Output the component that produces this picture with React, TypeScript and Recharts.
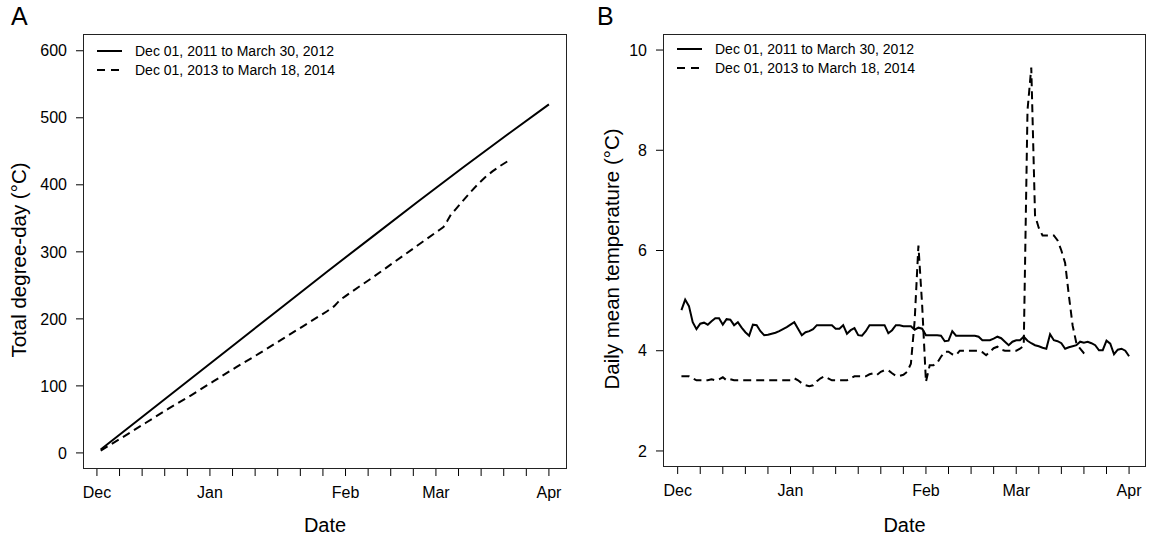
import React from "react";
import { LineChart, Line, XAxis, YAxis } from "recharts";

// x values are days since Dec 1 (0 = Dec 1)
const weekTicks = [0, 6, 12, 18, 24, 30, 36, 42, 48, 54, 60, 66, 72, 78, 84, 90, 96, 102, 108, 114, 120];
const monthTicks = [0, 30, 66, 90, 120];
const monthLabels = ["Dec", "Jan", "Feb", "Mar", "Apr"];

const seriesNames = ["Dec 01, 2011 to March 30, 2012", "Dec 01, 2013 to March 18, 2014"];

// Panel A: total degree-days
const degreeTicks = [0, 100, 200, 300, 400, 500, 600];
const solidDaysA = [1, 13, 25, 37, 49, 61, 73, 85, 97, 109, 120];
const solidCumA = [5, 58, 111, 164, 217, 270, 322, 374, 425, 475, 520];
const dashedDaysA = [1, 7, 13, 19, 25, 31, 37, 43, 49, 55, 61, 63, 64, 65, 66, 67, 73, 79, 85, 91, 92, 93, 94, 95, 97, 99, 101, 103, 105, 107, 109];
const dashedCumA = [3.5, 24, 45, 66, 86, 107, 128, 148, 169, 190, 211, 219, 225, 230, 234, 238, 261, 285, 309, 333, 337, 346, 356, 362, 375, 388, 400, 411, 420, 428, 435];

// Panel B: daily mean temperature, first value = day 1
const tempTicks = [2, 4, 6, 8, 10];
const solidDailyB = [
  4.81, 5.02, 4.89, 4.57, 4.43, 4.54, 4.56, 4.52, 4.59, 4.65,
  4.65, 4.52, 4.63, 4.62, 4.51, 4.57, 4.46, 4.37, 4.3, 4.52,
  4.51, 4.39, 4.31, 4.32, 4.34, 4.36, 4.39, 4.43, 4.47, 4.52,
  4.57, 4.44, 4.31, 4.37, 4.39, 4.43, 4.51, 4.51, 4.51, 4.51,
  4.51, 4.44, 4.44, 4.51, 4.34, 4.41, 4.45, 4.31, 4.3, 4.39,
  4.51, 4.51, 4.51, 4.51, 4.51, 4.35, 4.41, 4.51, 4.51, 4.49,
  4.49, 4.49, 4.42, 4.46, 4.44, 4.31, 4.31, 4.31, 4.31, 4.3,
  4.19, 4.2, 4.39, 4.3, 4.3, 4.3, 4.3, 4.3, 4.3, 4.28,
  4.21, 4.21, 4.21, 4.24, 4.28, 4.25, 4.18, 4.11, 4.18, 4.21,
  4.21, 4.28, 4.2, 4.15, 4.11, 4.09, 4.06, 4.04, 4.33, 4.21,
  4.19, 4.15, 4.04, 4.07, 4.09, 4.11, 4.18, 4.16, 4.18, 4.15,
  4.11, 4.01, 4.01, 4.2, 4.14, 3.93, 4.02, 4.04, 4.0, 3.89,
];
const dashedDailyB = [
  3.49, 3.49, 3.49, 3.45, 3.41, 3.41, 3.41, 3.41, 3.43, 3.41,
  3.43, 3.47, 3.41, 3.43, 3.41, 3.41, 3.41, 3.41, 3.41, 3.41,
  3.41, 3.41, 3.41, 3.41, 3.41, 3.41, 3.41, 3.41, 3.41, 3.41,
  3.45, 3.41, 3.35, 3.31, 3.29, 3.31, 3.39, 3.45, 3.49, 3.45,
  3.41, 3.41, 3.41, 3.41, 3.41, 3.45, 3.49, 3.49, 3.49, 3.49,
  3.53, 3.55, 3.52, 3.58, 3.61, 3.61, 3.55, 3.5, 3.5, 3.52,
  3.58, 3.74, 4.6, 6.1, 4.9, 3.38, 3.71, 3.71, 3.76, 3.88,
  3.98, 3.98, 3.93, 3.91, 4.0, 4.0, 4.0, 4.0, 4.0, 4.0,
  3.97, 3.91, 3.98, 4.05, 4.08, 4.02, 4.0, 4.0, 4.0, 4.0,
  4.04, 4.1, 8.8, 9.65, 6.7, 6.45, 6.3, 6.3, 6.3, 6.3,
  6.2, 6.0, 5.75, 5.1, 4.5, 4.15, 4.04, 3.95, 3.89,
];

const FONT = "'Liberation Sans', Arial, Helvetica, sans-serif";
const DASH = "8 5";

const toPoints = (days: number[], vals: number[]) => days.map((d, i) => ({ day: d, v: vals[i] }));
const dailyPoints = (vals: number[]) => vals.map((v, i) => ({ day: i + 1, v }));

const monthFormatter = (d: number) => {
  const i = monthTicks.indexOf(d);
  return i >= 0 ? monthLabels[i] : "";
};

type PanelProps = {
  left: number;
  width: number;
  plot: { x: number; y: number; w: number; h: number };
  xDomain: [number, number];
  yDomain: [number, number];
  yTicks: number[];
  solid: { day: number; v: number }[];
  dashed: { day: number; v: number }[];
  letter: string;
  letterX: number;
  yTitle: string;
  titleX: number;
  legendY: number;
};

function Panel(p: PanelProps) {
  const { plot } = p;
  const tickStyle = { fill: "#000", fontSize: 16, fontFamily: FONT };
  return (
    <>
      <div style={{ position: "absolute", left: p.left, top: 0 }}>
        <LineChart
          width={p.width}
          height={542}
          margin={{
            top: plot.y,
            left: plot.x - p.left - 60,
            right: p.left + p.width - (plot.x + plot.w),
            bottom: 542 - (plot.y + plot.h) - 40,
          }}
        >
          <XAxis
            dataKey="day"
            type="number"
            domain={p.xDomain}
            allowDataOverflow
            ticks={weekTicks}
            interval={0}
            tickFormatter={monthFormatter}
            axisLine={false}
            tickLine={{ stroke: "#000" }}
            tickSize={7}
            tickMargin={11}
            height={40}
            tick={tickStyle}
          />
          <YAxis
            type="number"
            domain={p.yDomain}
            allowDataOverflow
            ticks={p.yTicks}
            interval={0}
            axisLine={false}
            tickLine={{ stroke: "#000" }}
            tickSize={7}
            tickMargin={9}
            width={60}
            tick={tickStyle}
          />
          <Line data={p.solid} dataKey="v" stroke="#000" strokeWidth={2} dot={false} type="linear" isAnimationActive={false} />
          <Line data={p.dashed} dataKey="v" stroke="#000" strokeWidth={2} strokeDasharray={DASH} dot={false} type="linear" isAnimationActive={false} />
        </LineChart>
      </div>
      {/* plot frame */}
      <div
        style={{
          position: "absolute",
          left: plot.x,
          top: plot.y,
          width: plot.w,
          height: plot.h,
          border: "1px solid #222",
          boxSizing: "border-box",
          pointerEvents: "none",
        }}
      />
      {/* legend */}
      <svg style={{ position: "absolute", left: plot.x + 12, top: p.legendY - 10 }} width={260} height={40}>
        {seriesNames.map((name, i) => (
          <g key={name}>
            <line
              x1={2}
              x2={27}
              y1={10 + i * 19}
              y2={10 + i * 19}
              stroke="#000"
              strokeWidth={2}
              strokeDasharray={i === 1 ? "8 6" : undefined}
            />
            <text x={40} y={10 + i * 19} dominantBaseline="central" fontSize={14} fontFamily={FONT} fill="#000">
              {name}
            </text>
          </g>
        ))}
      </svg>
      <div style={{ position: "absolute", left: p.letterX, top: 2, fontSize: 25, fontFamily: FONT }}>
        {p.letter}
      </div>
      <div
        style={{
          position: "absolute",
          left: p.titleX,
          top: plot.y + plot.h / 2 + 8,
          transform: "translate(-50%, -50%) rotate(-90deg)",
          whiteSpace: "nowrap",
          fontSize: 20.5,
          fontFamily: FONT,
        }}
      >
        {p.yTitle}
      </div>
      <div
        style={{
          position: "absolute",
          left: plot.x + plot.w / 2,
          top: 525,
          transform: "translate(-50%, -50%)",
          fontSize: 20,
          fontFamily: FONT,
        }}
      >
        Date
      </div>
    </>
  );
}

export default function App() {
  return (
    <div style={{ position: "absolute", left: 0, top: 0, width: 1149, height: 542, background: "#fff" }}>
      <Panel
        left={0}
        width={580}
        plot={{ x: 83, y: 34, w: 484, h: 435 }}
        xDomain={[-3.7, 124.8]}
        yDomain={[-24, 625]}
        yTicks={degreeTicks}
        solid={toPoints(solidDaysA, solidCumA)}
        dashed={toPoints(dashedDaysA, dashedCumA)}
        letter="A"
        letterX={11}
        yTitle="Total degree-day (°C)"
        titleX={19}
        legendY={51}
      />
      <Panel
        left={580}
        width={569}
        plot={{ x: 663, y: 34, w: 483, h: 433 }}
        xDomain={[-3.9, 124.5]}
        yDomain={[1.68, 10.32]}
        yTicks={tempTicks}
        solid={dailyPoints(solidDailyB)}
        dashed={dailyPoints(dashedDailyB)}
        letter="B"
        letterX={597}
        yTitle="Daily mean temperature (°C)"
        titleX={612}
        legendY={49}
      />
    </div>
  );
}
